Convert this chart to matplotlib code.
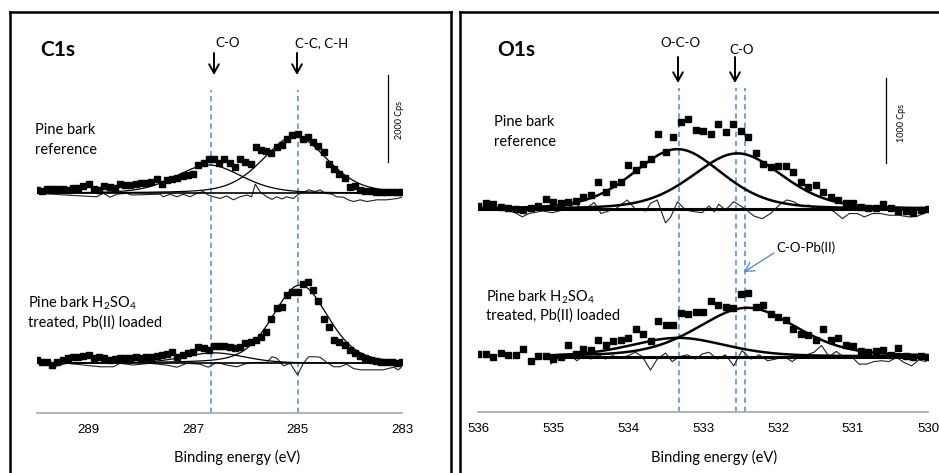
import numpy as np
import matplotlib
matplotlib.use("Agg")
import matplotlib.pyplot as plt
from matplotlib.lines import Line2D

plt.rcParams['font.family'] = ['Lato', 'DejaVu Sans']
plt.rcParams['mathtext.fontset'] = 'custom'
plt.rcParams['mathtext.rm'] = 'Lato'
plt.rcParams['mathtext.it'] = 'Lato:italic'

W, H = 939, 473

# ---- C1s data (cps above each trace's baseline) ----
c1s_energy = np.round(np.linspace(290.0, 283.0, 71), 1)
c1s_ref_counts = [70, 60, 90, 110, 110, 90, 70, 120, 130, 160,
                  210, 90, 70, 160, 150, 120, 220, 200, 180, 220,
                  230, 240, 250, 320, 210, 300, 340, 360, 390, 410,
                  450, 640, 690, 800, 780, 690, 780, 690, 600, 780,
                  710, 680, 1060, 1000, 970, 920, 1060, 1100, 1260, 1330,
                  1370, 1240, 1300, 1180, 1080, 950, 680, 570, 450, 360,
                  150, 160, 70, 50, 50, 40, 40, 20, 20, 20, 20]
c1s_pb_counts = [80, 40, 20, -40, 20, 80, 120, 140, 150, 170,
                 190, 130, 150, 120, 80, 90, 120, 120, 120, 150,
                 120, 140, 150, 170, 190, 210, 270, 150, 190, 230,
                 270, 370, 350, 310, 400, 400, 390, 370, 350, 380,
                 460, 500, 540, 600, 710, 1010, 1270, 1290, 1570, 1630,
                 1650, 1820, 1860, 1690, 1430, 1010, 840, 540, 500, 420,
                 310, 230, 170, 120, 80, 60, 40, 40, 20, 0, 40]

c1s_ref_res_e = [290.0, 288.85, 288.72, 288.59, 288.46, 288.27, 288.18, 287.63, 287.57, 287.44,
                 287.31, 287.19, 287.06, 286.93, 286.8, 286.71, 286.61, 286.48, 286.36, 286.23,
                 286.1, 285.97, 285.88, 285.81, 285.72, 285.59, 285.49, 285.4, 285.3, 285.21,
                 285.08, 284.98, 284.89, 284.79, 284.66, 284.57, 284.47, 284.34, 284.25, 284.12,
                 284.03, 283.93, 283.8, 283.67, 283.48, 283.29, 283.1, 282.97]
c1s_ref_res = [0, -80, 0, -90, -20, 0, -40, -20, -80, -20,
               -80, -20, -80, 0, 40, -40, -80, -120, -60, -150,
               -80, -40, -80, 210, 40, -80, -140, -80, -130, -80,
               -120, -20, 20, 80, 40, 80, 0, -20, -80, -90,
               -150, -190, -150, -190, -150, -150, -120, -80]

c1s_pb_res_e = [290.0, 289.68, 289.42, 289.1, 288.78, 288.53, 288.4, 288.15, 287.83, 287.51,
                287.31, 287.12, 286.87, 286.71, 286.55, 286.36, 286.16, 285.97, 285.78, 285.59,
                285.49, 285.4, 285.27, 285.14, 285.0, 284.89, 284.79, 284.66, 284.57, 284.44,
                284.31, 284.19, 284.06, 283.93, 283.8, 283.61, 283.36, 283.16, 283.07, 283.0]
c1s_pb_res = [40, -80, 0, -40, -80, -80, 0, -40, 0, -40,
              -90, 0, -20, -90, 20, -40, -80, 0, 20, 20,
              150, 120, -60, 0, -270, 0, 150, 150, 140, 20,
              -80, -80, -20, -120, -150, -150, -150, -90, -150, -80]

# fitted components: centre (eV), height (cps), FWHM (eV)
c1s_ref_centers = [286.7, 285.05]
c1s_ref_heights = [650, 1310]
c1s_ref_fwhm = [1.5, 1.45]
c1s_pb_centers = [286.6, 284.95]
c1s_pb_heights = [240, 1800]
c1s_pb_fwhm = [1.4, 1.25]

# ---- O1s data ----
o1s_energy = np.round(np.linspace(536.0, 530.0, 61), 1)
o1s_ref_counts = [40, 80, 60, 30, 10, 0, -10, 20, 40, 120,
                  90, 80, 90, 100, 150, 170, 320, 200, 300, 320,
                  520, 460, 540, 590, 890, 680, 850, 1030, 1070, 940,
                  920, 890, 1010, 910, 1010, 920, 850, 670, 530, 500,
                  510, 510, 440, 320, 260, 290, 210, 140, 110, 80,
                  80, 30, 10, 10, 60, 10, -20, -20, -40, -10, 0]
o1s_pb_counts = [30, 30, 0, 40, 20, 20, 90, -50, 10, 10,
                 -30, 0, 130, 30, 90, 80, 190, 140, 180, 190,
                 220, 320, 260, 180, 420, 370, 370, 510, 500, 520,
                 520, 650, 610, 580, 570, 740, 750, 590, 610, 500,
                 470, 430, 320, 270, 250, 190, 330, 190, 220, 130,
                 120, 70, 50, 70, 80, 20, 100, 10, -10, 10, 0]

o1s_ref_res_e = [536.0, 535.85, 535.68, 535.5, 535.41, 535.32, 535.14, 535.01, 534.83, 534.7,
                 534.59, 534.45, 534.36, 534.16, 534.01, 533.9, 533.76, 533.7, 533.61, 533.5,
                 533.43, 533.34, 533.23, 533.1, 533.01, 532.92, 532.85, 532.79, 532.7, 532.59,
                 532.5, 532.43, 532.32, 532.21, 532.1, 531.96, 531.88, 531.79, 531.68, 531.59,
                 531.48, 531.36, 531.25, 531.14, 531.05, 530.94, 530.85, 530.74, 530.63, 530.52,
                 530.39, 530.25, 530.14, 530.03]
o1s_ref_res = [-10, 30, 0, -40, -90, -50, -20, -40, 0, 70,
               -10, 80, -50, 10, 110, 0, -20, 70, 110, -160,
               -90, 90, -10, -30, -40, 40, -30, 60, -10, 90,
               40, 0, -80, -110, -50, 70, 110, 90, 30, 50,
               -10, 20, -30, -110, -50, -50, -90, -50, -50, -70,
               -70, -90, -80, -40]

o1s_pb_res_e = [535.03, 534.92, 534.79, 534.68, 534.59, 534.5, 534.39, 534.3, 534.21, 534.1,
                534.0, 533.9, 533.81, 533.7, 533.61, 533.5, 533.41, 533.31, 533.21, 533.1,
                533.01, 532.92, 532.81, 532.7, 532.59, 532.48, 532.36, 532.25, 532.14, 532.03,
                531.92, 531.81, 531.72, 531.62, 531.52, 531.42, 531.32, 531.22, 531.12, 531.02,
                530.92, 530.82, 530.72, 530.62, 530.52, 530.42, 530.32, 530.22, 530.12, 530.03]
o1s_pb_res = [-90, 0, 20, -50, 10, -30, 20, -30, 10, -20,
              10, 50, 0, -160, -30, 40, -60, 0, 20, -30,
              30, 50, -30, 20, -110, 70, -30, 20, -50, -30,
              0, -60, 0, 20, 50, 130, 0, 60, -10, 0,
              -90, -90, -60, -50, -60, -10, -70, -110, -40, -60]

o1s_ref_centers = [533.34, 532.54]
o1s_ref_heights = [710, 660]
o1s_ref_fwhm = [1.4, 1.42]
o1s_pb_centers = [533.33, 532.41]
o1s_pb_heights = [220, 575]
o1s_pb_fwhm = [1.5, 1.55]

c1s_ticks = [289, 287, 285, 283]
o1s_ticks = [536, 535, 534, 533, 532, 531, 530]
c1s_marks = [286.65, 285.0]
o1s_marks = [533.32, 532.56, 532.44]


def gl(x, c, h, w, m=0.3):
    d = 4 * (x - c) ** 2 / w ** 2
    return h * ((1 - m) * np.exp(-np.log(2) * d) + m / (1 + d))


fig = plt.figure(figsize=(W / 100, H / 100), dpi=100)


def add_axes(left, right, top, bottom):
    return fig.add_axes([left / W, 1 - bottom / H, (right - left) / W, (bottom - top) / H])


def ftext(x, y, s, **kw):
    fig.text(x / W, 1 - y / H, s, **kw)


def farrow(x0, y0, x1, y1, color='black', lw=1.4, style='->,head_length=0.45,head_width=0.25'):
    fig.add_artist(matplotlib.patches.FancyArrowPatch(
        (x0, H - y0), (x1, H - y1), transform=None, arrowstyle=style,
        color=color, lw=lw, mutation_scale=14, shrinkA=0, shrinkB=0))


def style_axes(ax, ticks):
    for s in ['top', 'left', 'right']:
        ax.spines[s].set_visible(False)
    ax.spines['bottom'].set_color('#a6a6a6')
    ax.spines['bottom'].set_linewidth(1.2)
    ax.set_yticks([])
    ax.set_xticks(ticks)
    ax.set_xticklabels([str(t) for t in ticks], fontfamily='Liberation Sans', fontsize=9.5)
    ax.tick_params(axis='x', length=0, pad=8)
    ax.patch.set_alpha(0)


def draw_trace(ax, e, counts, res_e, res, centers, heights, fwhm, base, fit_lo, fit_hi,
               ms, comp_lw, base_lw):
    x = np.linspace(fit_lo, fit_hi, 300)
    ax.plot([fit_lo, fit_hi], [base, base], color='black', lw=base_lw, zorder=3)
    ax.plot(res_e, np.array(res) + base, color='#222222', lw=0.8, zorder=2)
    for c, h, w in zip(centers, heights, fwhm):
        ax.plot(x, gl(x, c, h, w) + base, color='black', lw=comp_lw, zorder=3)
    ax.plot(e, np.array(counts) + base, ls='none', marker='s', ms=ms,
            color='black', zorder=4)


# ---------- C1s panel ----------
axc = add_axes(36.5, 402, 20, 413)
c_scale = 23.0  # cps per pixel
axc.set_xlim(290, 283)
axc.set_ylim(0, 393 * c_scale)
style_axes(axc, c1s_ticks)
draw_trace(axc, c1s_energy, c1s_ref_counts, c1s_ref_res_e, c1s_ref_res,
           c1s_ref_centers, c1s_ref_heights, c1s_ref_fwhm, (413 - 193.3) * c_scale,
           290, 283, 4.2, 0.9, 1.2)
draw_trace(axc, c1s_energy, c1s_pb_counts, c1s_pb_res_e, c1s_pb_res,
           c1s_pb_centers, c1s_pb_heights, c1s_pb_fwhm, (413 - 363.3) * c_scale,
           290, 283, 4.2, 0.9, 1.2)
for m in c1s_marks:
    axc.axvline(m, ymin=0, ymax=(413 - 90) / 393, color='#4f86d0', lw=1.1,
                ls=(0, (3.5, 2.5)), zorder=1)
axc.plot([283.27, 283.27], [(413 - 162) * c_scale, (413 - 75) * c_scale], color='black', lw=0.9)

# ---------- O1s panel ----------
axo = add_axes(478, 928, 20, 412)
o_scale = 11.8
axo.set_xlim(536, 530)
axo.set_ylim(0, 392 * o_scale)
style_axes(axo, o1s_ticks)
draw_trace(axo, o1s_energy, o1s_ref_counts, o1s_ref_res_e, o1s_ref_res,
           o1s_ref_centers, o1s_ref_heights, o1s_ref_fwhm, (412 - 209.3) * o_scale,
           536, 530, 4.6, 1.8, 2.2)
draw_trace(axo, o1s_energy, o1s_pb_counts, o1s_pb_res_e, o1s_pb_res,
           o1s_pb_centers, o1s_pb_heights, o1s_pb_fwhm, (412 - 356.5) * o_scale,
           535.03, 530, 4.6, 1.8, 2.2)
for m in o1s_marks:
    axo.axvline(m, ymin=0, ymax=(412 - 88) / 392, color='#4f86d0', lw=1.1,
                ls=(0, (3.5, 2.5)), zorder=1)
axo.plot([530.56, 530.56], [(412 - 163) * o_scale, (412 - 78) * o_scale], color='black', lw=0.9)

# ---------- text and annotations ----------
ftext(40, 50, 'C1s', fontsize=15, fontweight='bold', va='center')
ftext(497, 50, 'O1s', fontsize=15, fontweight='bold', va='center')

ftext(35, 130, 'Pine bark', fontsize=10.5, va='center')
ftext(35, 150, 'reference', fontsize=10.5, va='center')
ftext(494, 122, 'Pine bark', fontsize=10.5, va='center')
ftext(494, 142, 'reference', fontsize=10.5, va='center')

ftext(28, 303, r'Pine bark H$_2$SO$_4$', fontsize=10.5, va='center')
ftext(28, 323, 'treated, Pb(II) loaded', fontsize=10.5, va='center')
ftext(486, 297, r'Pine bark H$_2$SO$_4$', fontsize=10.5, va='center')
ftext(486, 316, 'treated, Pb(II) loaded', fontsize=10.5, va='center')

ftext(237, 457, 'Binding energy (eV)', fontsize=10.5, ha='center', va='center')
ftext(714, 457, 'Binding energy (eV)', fontsize=10.5, ha='center', va='center')

ftext(400, 120, '2000 Cps', fontsize=6.5, rotation=90, ha='center', va='center')
ftext(901, 123, '1000 Cps', fontsize=6.5, rotation=90, ha='center', va='center')

ftext(215, 43, 'C-O', fontsize=9.5, va='center')
ftext(295, 43, 'C-C, C-H', fontsize=9.5, va='center')
ftext(680, 43, 'O-C-O', fontsize=9.5, ha='center', va='center')
ftext(742, 50, 'C-O', fontsize=9.5, ha='center', va='center')
ftext(776, 248, 'C-O-Pb(II)', fontsize=9.5, va='center')

farrow(214, 53, 214, 75)
farrow(297, 53, 297, 75)
farrow(678, 57, 678, 83)
farrow(735, 57, 735, 83)
farrow(774, 253, 744, 272, color='#4a86c8', lw=0.9)

# panel frames
frame = dict(color='black', lw=1.8, transform=fig.transFigure)
for xs, ys in [([10, 10], [12, 473]), ([10, 451], [12, 12]), ([451, 451], [12, 473]),
               ([460, 460], [12, 473]), ([460, 939], [12, 12])]:
    fig.add_artist(Line2D([x / W for x in xs], [1 - y / H for y in ys], **frame))

fig.savefig('out.png', dpi=100)
